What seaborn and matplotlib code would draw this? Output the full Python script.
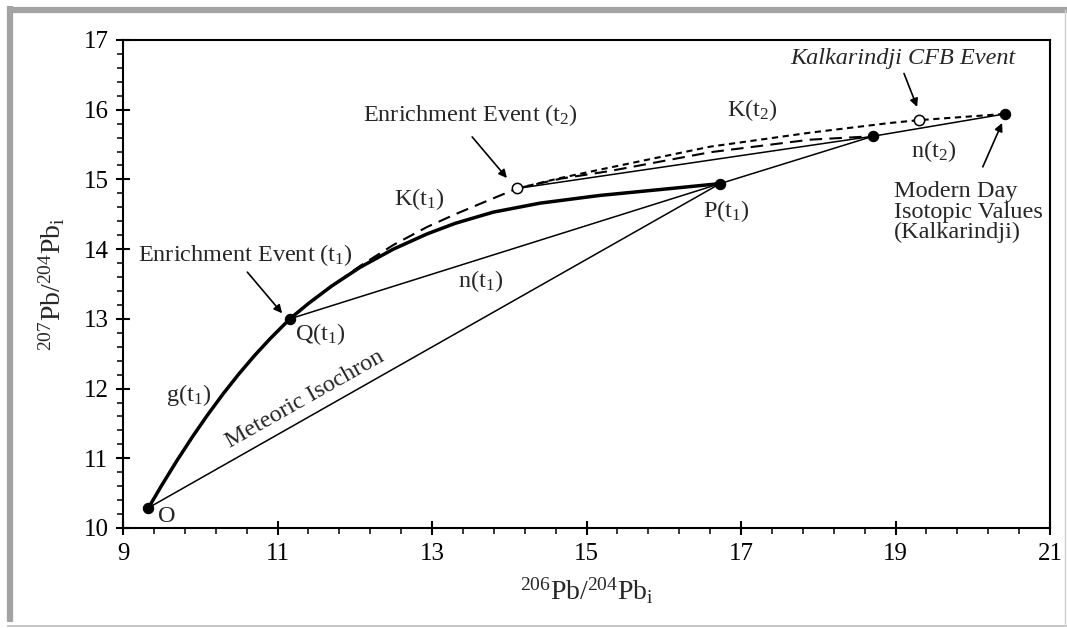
import numpy as np
import pandas as pd
import matplotlib
matplotlib.use("Agg")
import matplotlib.pyplot as plt
from matplotlib.ticker import MultipleLocator, FixedLocator
from matplotlib.lines import Line2D
import seaborn as sns

# ---------------- data ----------------
# growth curve g(t1): O -> Q(t1) -> P(t1)
g_x = [9.33, 9.5, 9.7, 9.9, 10.1, 10.3, 10.5, 10.7, 10.9, 11.16,
       11.4, 11.7, 12.07, 12.5, 12.94, 13.3, 13.79, 14.4, 15.17, 16.0, 16.73]
g_y = [10.29, 10.61, 10.97, 11.31, 11.63, 11.93, 12.21, 12.47, 12.71, 13.00,
       13.22, 13.47, 13.74, 14.00, 14.22, 14.37, 14.53, 14.66, 14.77, 14.86, 14.94]
# K(t1): Q(t1) -> enrichment event t2
k1_x = [11.16, 11.4, 11.7, 12.07, 12.5, 12.94, 13.3, 13.6, 14.1]
k1_y = [13.00, 13.22, 13.47, 13.76, 14.06, 14.32, 14.50, 14.64, 14.87]
# K(t1) continuation after t2 (long dashes) -> point on n(t2)
k1b_x = [14.1, 14.66, 15.3, 16.6, 17.89, 18.71]
k1b_y = [14.87, 15.01, 15.12, 15.39, 15.57, 15.62]
# K(t2): enrichment event t2 -> CFB event -> modern day (short dashes)
k2_x = [14.1, 14.66, 15.3, 16.6, 17.89, 18.93, 19.30, 20.42]
k2_y = [14.87, 15.02, 15.17, 15.47, 15.67, 15.81, 15.85, 15.94]

# named points
O_pt = (9.33, 10.29)
Q_pt = (11.16, 13.00)
P_pt = (16.73, 14.94)
T2_pt = (14.10, 14.87)     # enrichment event (t2), open
N2_pt = (18.71, 15.62)     # filled point on n(t2)
CFB_pt = (19.30, 15.85)    # Kalkarindji CFB event, open
MOD_pt = (20.42, 15.94)    # modern day values

x_ticks = [9, 11, 13, 15, 17, 19, 21]
y_ticks = [10, 11, 12, 13, 14, 15, 16, 17]

# ---------------- style ----------------
sns.set_style("ticks")
plt.rcParams["font.family"] = ["Liberation Serif", "DejaVu Serif"]
plt.rcParams["mathtext.fontset"] = "custom"
plt.rcParams["mathtext.rm"] = "Liberation Serif"
plt.rcParams["mathtext.it"] = "Liberation Serif:italic"
plt.rcParams["mathtext.bf"] = "Liberation Serif:bold"

fig = plt.figure(figsize=(10.67, 6.28), dpi=100)
fig.patch.set_facecolor("white")
ax = fig.add_axes([123 / 1067, 1 - 528 / 628, 927 / 1067, 488 / 628])

thin = 1.1
def line(xs, ys, lw=thin, ls="-"):
    df = pd.DataFrame({"x": xs, "y": ys})
    sns.lineplot(data=df, x="x", y="y", ax=ax, sort=False, estimator=None,
                 color="black", linewidth=lw, linestyle=ls, zorder=2)

# straight segments
line([O_pt[0], P_pt[0]], [O_pt[1], P_pt[1]])                 # meteoric isochron
line([Q_pt[0], P_pt[0]], [Q_pt[1], P_pt[1]])                 # n(t1)
line([P_pt[0], N2_pt[0]], [P_pt[1], N2_pt[1]])               # P -> n(t2) point
line([T2_pt[0], N2_pt[0], MOD_pt[0]], [T2_pt[1], N2_pt[1], MOD_pt[1]])  # n(t2)
# curves
line(k1_x, k1_y, lw=1.5, ls=(0, (6, 3.5)))
line(g_x, g_y, lw=2.5)
line(k1b_x, k1b_y, lw=1.5, ls=(0, (6, 3.5)))
line(k2_x, k2_y, lw=1.5, ls=(0, (3, 2.2)))

# points
filled = pd.DataFrame({"x": [O_pt[0], Q_pt[0], P_pt[0], N2_pt[0], MOD_pt[0]],
                       "y": [O_pt[1], Q_pt[1], P_pt[1], N2_pt[1], MOD_pt[1]]})
sns.scatterplot(data=filled, x="x", y="y", ax=ax, s=55, color="black",
                edgecolor="black", linewidth=0.8, zorder=4)
opened = pd.DataFrame({"x": [T2_pt[0], CFB_pt[0]], "y": [T2_pt[1], CFB_pt[1]]})
sns.scatterplot(data=opened, x="x", y="y", ax=ax, s=55, color="white",
                edgecolor="black", linewidth=1.1, zorder=4)

# ---------------- axes ----------------
ax.set_xlim(9, 21)
ax.set_ylim(10, 17)
ax.xaxis.set_major_locator(FixedLocator(x_ticks))
ax.xaxis.set_minor_locator(FixedLocator(np.arange(9, 21.01, 0.4)))
ax.yaxis.set_major_locator(FixedLocator(y_ticks))
ax.yaxis.set_minor_locator(MultipleLocator(0.2))
ax.tick_params(which="major", direction="inout", length=10, width=1.5,
               labelsize=18, pad=5.5, colors="black")
ax.tick_params(which="minor", direction="out", length=4.5, width=1.3)
ax.tick_params(top=False, right=False, which="both")
for sp in ax.spines.values():
    sp.set_visible(True)
    sp.set_linewidth(1.5)
    sp.set_color("black")

ax.set_xlabel(r"$^{206}$Pb/$^{204}$Pb$_{\rm i}$", fontsize=20, labelpad=8)
ax.set_ylabel(r"$^{207}$Pb/$^{204}$Pb$_{\rm i}$", fontsize=20, labelpad=12)

# ---------------- annotations ----------------
fs = 17.5
ax.text(9.57, 10.17, "O", fontsize=fs, ha="center", va="center")
ax.text(9.85, 11.91, r"g(t$_1$)", fontsize=fs, ha="center", va="center")
ax.text(11.23, 12.78, r"Q(t$_1$)", fontsize=fs, ha="left", va="center")
ax.text(12.83, 14.72, r"K(t$_1$)", fontsize=fs, ha="center", va="center")
ax.text(13.63, 13.54, r"n(t$_1$)", fontsize=fs, ha="center", va="center")
ax.text(16.81, 14.55, r"P(t$_1$)", fontsize=fs, ha="center", va="center")
ax.text(17.14, 16.00, r"K(t$_2$)", fontsize=fs, ha="center", va="center")
ax.text(19.49, 15.41, r"n(t$_2$)", fontsize=fs, ha="center", va="center")
ax.text(11.36, 11.84, "Meteoric Isochron", fontsize=fs, ha="center", va="center",
        rotation=29.5, rotation_mode="anchor")

arrow = dict(arrowstyle="-|>", color="black", lw=1.2, mutation_scale=12,
             shrinkA=0, shrinkB=0)
ax.text(10.58, 13.92, r"Enrichment Event (t$_1$)", fontsize=fs, ha="center", va="center")
ax.annotate("", xy=(11.06, 13.08), xytext=(10.61, 13.67), arrowprops=arrow)
ax.text(13.50, 15.93, r"Enrichment Event (t$_2$)", fontsize=fs, ha="center", va="center")
ax.annotate("", xy=(13.97, 15.02), xytext=(13.52, 15.61), arrowprops=arrow)
ax.text(19.10, 16.74, "Kalkarindji CFB Event", fontsize=fs, ha="center", va="center",
        style="italic")
ax.annotate("", xy=(19.28, 16.04), xytext=(19.11, 16.52), arrowprops=arrow)
ax.text(18.98, 14.53, "Modern Day\nIsotopic Values\n(Kalkarindji)", fontsize=fs,
        ha="left", va="center", multialignment="left", linespacing=0.95)
ax.annotate("", xy=(20.38, 15.81), xytext=(20.13, 15.18), arrowprops=arrow)

# ---------------- gray frame ----------------
W, H = 1067, 628
def fl(x0, y0, x1, y1, lw, c):
    fig.add_artist(Line2D([x0 / W, x1 / W], [1 - y0 / H, 1 - y1 / H],
                          transform=fig.transFigure, color=c, linewidth=lw,
                          solid_capstyle="butt"))
fl(10, 6, 10, 622, 4.5, "#a3a3a3")
fl(7, 9.5, 1067, 9.5, 4.5, "#a3a3a3")
fl(7, 626, 1067, 626, 1.2, "#bdbdbd")
fl(1065, 9, 1065, 626, 1.0, "#d0d0d0")

fig.savefig("out.png", dpi=100, facecolor="white")
